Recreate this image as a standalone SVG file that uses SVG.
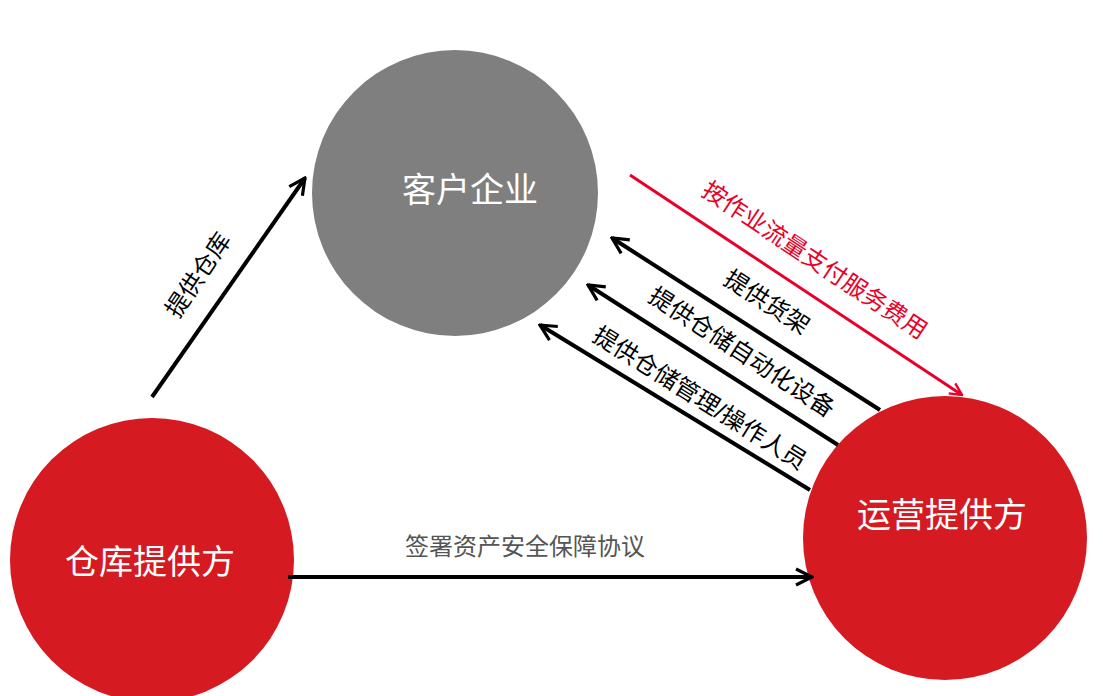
<svg xmlns="http://www.w3.org/2000/svg" width="1103" height="696" viewBox="0 0 1103 696">
<style>
.n{font-family:"Liberation Sans","Noto Sans CJK SC",sans-serif;font-size:34px;fill:#fff;text-anchor:middle;dominant-baseline:central}
.l{font-family:"Liberation Sans","Noto Sans CJK SC",sans-serif;font-size:24px;fill:#000;text-anchor:middle;dominant-baseline:central}
.c{stroke:#000;stroke-width:4;fill:none}
</style>
<defs>
<marker id="a" viewBox="0 0 10 10" refX="9" refY="5" markerWidth="5" markerHeight="5" orient="auto" markerUnits="strokeWidth"><path d="M1,1 L9,5 L1,9" fill="none" stroke="#000" stroke-width="1.6"/></marker>
<marker id="r" viewBox="0 0 10 10" refX="9" refY="5" markerWidth="5" markerHeight="5" orient="auto" markerUnits="strokeWidth"><path d="M1,1 L9,5 L1,9" fill="none" stroke="#e8002a" stroke-width="1.6"/></marker>
</defs>
<rect width="1103" height="696" fill="#fff"/>
<g id="n1"><circle cx="455" cy="193" r="143" fill="#7f7f7f"/><text class="n" x="470" y="190">客户企业</text></g>
<g id="n2"><circle cx="152" cy="560" r="142" fill="#d51a22"/><text class="n" x="150" y="562">仓库提供方</text></g>
<g id="n3"><circle cx="945" cy="538" r="142" fill="#d51a22"/><text class="n" x="942" y="515">运营提供方</text></g>
<g id="edges">
<line class="c" x1="152" y1="397" x2="305" y2="178" marker-end="url(#a)"/>
<line x1="630" y1="175" x2="962" y2="395" stroke="#e8002a" stroke-width="3" marker-end="url(#r)"/>
<line class="c" x1="880" y1="410" x2="612" y2="238" marker-end="url(#a)"/>
<line class="c" x1="838" y1="445" x2="588" y2="285" marker-end="url(#a)"/>
<line class="c" x1="810" y1="490" x2="540" y2="325" marker-end="url(#a)"/>
<line class="c" x1="288" y1="577" x2="812" y2="577" marker-end="url(#a)"/>
<text class="l" transform="translate(198,275) rotate(-56)">提供仓库</text>
<text class="l" transform="translate(815,260) rotate(33.5)" style="fill:#e8002a">按作业流量支付服务费用</text>
<text class="l" transform="translate(767,302) rotate(33)">提供货架</text>
<text class="l" transform="translate(742,352) rotate(33)">提供仓储自动化设备</text>
<text class="l" transform="translate(700,398) rotate(32)">提供仓储管理/操作人员</text>
<text class="l" x="525" y="546" style="fill:#555">签署资产安全保障协议</text>
</g>
</svg>
